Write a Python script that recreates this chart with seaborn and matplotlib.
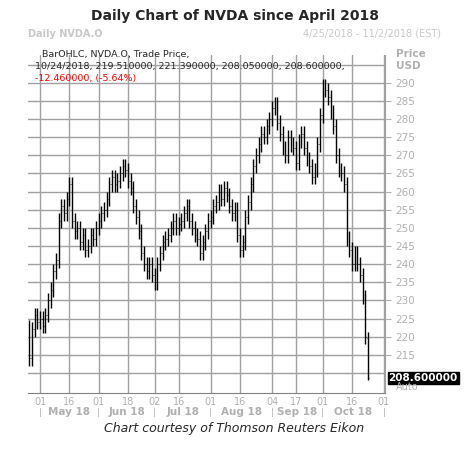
import numpy as np
import pandas as pd
import matplotlib
matplotlib.use("Agg")
import matplotlib.pyplot as plt
import seaborn as sns

# daily closes, Apr 25 2018 - Oct 24 2018
closes_apr = [214, 222, 226, 224]
closes_may = [225, 223, 226, 230, 233, 238, 241, 252, 256, 254, 258, 262, 252, 249, 250, 246,
              248, 244, 245, 248, 247, 250]
closes_jun = [252, 254, 255, 258, 262, 264, 262, 263, 265, 267, 266, 263, 261, 256, 253, 249,
              243, 240, 238, 240, 237]
closes_jul = [235, 240, 243, 246, 247, 248, 250, 252, 250, 251, 252, 254, 256, 252, 250, 248,
              247, 243, 246, 249, 252]
closes_aug = [253, 256, 257, 260, 258, 261, 259, 256, 254, 255, 248, 244, 246, 253, 257, 262,
              267, 270, 273, 276, 275, 278, 280]
closes_sep = [283, 284, 279, 276, 272, 270, 275, 273, 272, 268, 274, 276, 272, 269, 267, 264,
              266, 273, 281]
closes_oct = [289, 288, 286, 282, 278, 270, 266, 265, 262, 247, 244, 240, 243, 240, 237, 231,
              220, 208.6]
first_open = 222.5
last_bar = (219.51, 221.39, 208.05, 208.6)  # O H L C on 10/24/2018
wick = 2.0

tick_dates = ["2018-05-01", "2018-05-16", "2018-06-01", "2018-06-18", "2018-07-02", "2018-07-16",
              "2018-08-01", "2018-08-16", "2018-09-04", "2018-09-17", "2018-10-01", "2018-10-16",
              "2018-11-01"]
tick_labels = ["01", "16", "01", "18", "02", "16", "01", "16", "04", "17", "01", "16", "01"]
month_labels = ["May 18", "Jun 18", "Jul 18", "Aug 18", "Sep 18", "Oct 18"]

closes = np.array(closes_apr + closes_may + closes_jun + closes_jul + closes_aug + closes_sep + closes_oct, float)
opens = np.r_[first_open, closes[:-1]]
highs = np.maximum(opens, closes) + wick
lows = np.minimum(opens, closes) - wick
opens[-1], highs[-1], lows[-1], closes[-1] = last_bar

hol = pd.to_datetime(["2018-05-28", "2018-07-04", "2018-09-03"])
days = pd.bdate_range("2018-04-25", "2018-11-05")
days = days[~days.isin(hol)]
idx = np.arange(len(closes))
tick_pos = [days.get_loc(pd.Timestamp(d)) for d in tick_dates]

sns.set_style("white")
fig = plt.figure(figsize=(4.69, 4.5), dpi=100)
ax = fig.add_axes([0.06, 0.127, 0.761, 0.751])

grid_c = "#a0a0a0"
for p in tick_pos:
    ax.axvline(p, color=grid_c, lw=1, zorder=0)
for v in range(210, 300, 5):
    ax.axhline(v, color=grid_c, lw=1, zorder=0)

ax.vlines(idx, lows, highs, color="black", lw=1.0)
ax.hlines(opens, idx - 0.3, idx, color="black", lw=0.6)
ax.hlines(closes, idx, idx + 0.3, color="black", lw=0.6)

ax.set_xlim(-0.5, 133.4)
ax.set_ylim(204.5, 297.7)
ax.yaxis.tick_right()
ax.set_yticks(range(215, 295, 5))
ax.tick_params(axis="y", colors="#b0b0b0", labelsize=7.5, length=4, direction="out", right=True)
ax.set_xticks(tick_pos)
ax.set_xticklabels(tick_labels)
ax.tick_params(axis="x", colors="#b0b0b0", labelsize=7, length=0, pad=3)
for s in ["top", "left"]:
    ax.spines[s].set_visible(False)
ax.spines["right"].set_color(grid_c)
ax.spines["bottom"].set_color("#808080")

for i, lab in enumerate(month_labels):
    mid = (tick_pos[2 * i] + tick_pos[2 * i + 2]) / 2
    ax.text(mid, -0.057, lab, transform=ax.get_xaxis_transform(), ha="center", va="center",
            fontsize=7.5, color="#b0b0b0", fontweight="bold")
for p in tick_pos[::2]:
    ax.text(p, -0.057, "|", transform=ax.get_xaxis_transform(), ha="center", va="center",
            fontsize=6, color="#b0b0b0")

ax.text(1.01, 0.044, f"{closes[-1]:.6f}", transform=ax.transAxes, fontsize=7.5,
        fontweight="bold", color="white", va="center",
        bbox=dict(boxstyle="square,pad=0.1", fc="black", ec="black"))
ax.text(1.03, 0.018, "Auto", transform=ax.transAxes, fontsize=7, color="#b0b0b0", va="center")
fig.text(0.845, 0.88, "Price", fontsize=7.5, color="#b0b0b0", va="center", fontweight="bold")
fig.text(0.845, 0.853, "USD", fontsize=7.5, color="#b0b0b0", va="center", fontweight="bold")

fig.text(0.5, 0.965, "Daily Chart of NVDA since April 2018", ha="center", va="center",
         fontsize=10, fontweight="bold")
fig.text(0.06, 0.925, "Daily NVDA.O", fontsize=7, color="#c8c8c8", fontweight="bold", va="center")
fig.text(0.94, 0.925, "4/25/2018 - 11/2/2018 (EST)", fontsize=7, color="#c8c8c8",
         ha="right", va="center")
fig.text(0.09, 0.88, "BarOHLC, NVDA.O, Trade Price,", fontsize=6.8, va="center")
fig.text(0.075, 0.853, "10/24/2018, 219.510000, 221.390000, 208.050000, 208.600000,",
         fontsize=6.8, va="center")
fig.text(0.075, 0.826, "-12.460000, (-5.64%)", fontsize=6.8, va="center", color="red")
fig.text(0.5, 0.048, "Chart courtesy of Thomson Reuters Eikon", ha="center", va="center",
         fontsize=9, style="italic")

fig.savefig("out.png", dpi=100)
